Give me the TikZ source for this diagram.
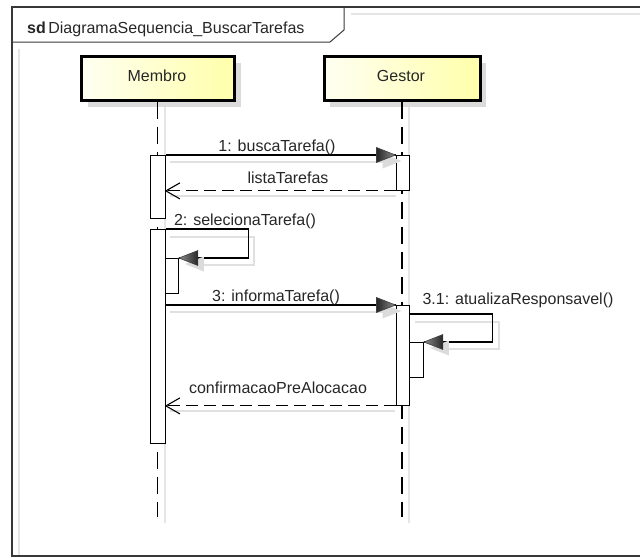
\documentclass[tikz,border=0pt]{standalone}
\usepackage{fontspec}
\setmainfont{Liberation Sans}
\begin{document}
\begin{tikzpicture}[x=1pt,y=-1pt,
  lbl/.style={font=\fontsize{16}{18}\selectfont, text=black!85, inner sep=0pt, anchor=base},
  lifebox/.style={draw=black, line width=3pt, left color=yellow!5, right color=yellow!33,
    minimum height=44pt, inner sep=0pt},
  boxshadow/.style={fill=black!14},
  lifeline/.style={draw=black, line width=1.2pt, dash pattern=on 17pt off 8pt},
  lifeshadow/.style={draw=black!10, line width=1.2pt},
  actbar/.style={draw=black, fill=white, line width=0.9pt, inner sep=0pt, anchor=north west},
  msg/.style={draw=black, line width=1.1pt},
  reply/.style={draw=black, line width=1.1pt, dash pattern=on 12pt off 6pt},
  msgshadow/.style={draw=black!12, line width=1.1pt},
  framestyle/.style={draw=black!78, line width=1.5pt},
  callheadR/.pic={
    \fill[black!14] (6,6) -- (-13,-1.5) -- (-13,13.5) -- cycle;
    \shade[left color=black!85, right color=black!45, draw=black!75, line width=0.6pt]
      (0,0) -- (-19,-7.5) -- (-19,7.5) -- cycle;
  },
  callheadL/.pic={
    \fill[black!14] (6,6) -- (25,-1.5) -- (25,13.5) -- cycle;
    \shade[left color=black!45, right color=black!85, draw=black!75, line width=0.6pt]
      (0,0) -- (19,-7.5) -- (19,7.5) -- cycle;
  },
  replyhead/.pic={
    \draw[black, line width=1.1pt] (14,-8) -- (0,0) -- (14,8);
  },
]
\useasboundingbox (0,0) rectangle (640,557);
\clip (0,0) rectangle (640,557);

% frame shadow and frame
\draw[black!10, line width=1.2pt] (19,49) -- (19,556);
\draw[black!10, line width=1.2pt] (351,14) -- (640,14);
\draw[framestyle] (650,556) -- (12,556) -- (12,7) -- (650,7);
\draw[draw=black!78, line width=1pt] (12,42) -- (330,42) -- (344,30) -- (344,7);
\node[lbl, anchor=base west] (title) at (27,33)
  {\textbf{sd}\hspace{2.5pt}DiagramaSequencia\_BuscarTarefas};

% lifeline heads
\fill[boxshadow] (88,63) rectangle (241,107);
\fill[boxshadow] (330,63) rectangle (486,107);
\node[lifebox, minimum width=153pt] (membro) at (157.5,78) {};
\node[lifebox, minimum width=156pt] (gestor) at (402,78) {};
\node[lbl] (membrotxt) at (157,81) {Membro};
\node[lbl] (gestortxt) at (401,81) {Gestor};

% lifelines
\coordinate (mEnd) at (157.5,517);
\coordinate (gEnd) at (402,517);
\draw[lifeshadow] (165,107) -- (165,523);
\draw[lifeshadow] (409,107) -- (409,523);
\draw[lifeline] (membro.south) -- (mEnd);
\draw[lifeline] (gestor.south) -- (gEnd);

% message shadows
\draw[msgshadow] (170,162) -- (396,162);
\draw[msgshadow] (170,196) -- (396,196);
\draw[msgshadow] (170,237) -- (254,237) -- (254,265) -- (200,265);
\draw[msgshadow] (170,312) -- (395,312);
\draw[msgshadow] (415,322) -- (499,322) -- (499,349) -- (444,349);
\draw[msgshadow] (170,411) -- (395,411);

% activation bars
\node[actbar, minimum width=15pt, minimum height=63pt] (m1) at (150,155) {};
\node[actbar, minimum width=15pt, minimum height=214pt] (m2) at (150,229) {};
\node[actbar, minimum width=13pt, minimum height=35pt] (m2n) at (165,258) {};
\node[actbar, minimum width=13pt, minimum height=35pt] (g1) at (395.5,155) {};
\node[actbar, minimum width=13pt, minimum height=100pt] (g2) at (395.5,305) {};
\node[actbar, minimum width=14.5pt, minimum height=35pt] (g2n) at (408.5,342) {};

% 1: buscaTarefa / listaTarefas
\draw[msg] (m1.north east) -- (g1.north west);
\pic at (g1.north west) {callheadR};
\node[lbl] (l1) at (277,151) {1: buscaTarefa()};
\draw[reply] (g1.south west) -- (m1.east |- g1.south west);
\pic at (m1.east |- g1.south west) {replyhead};
\node[lbl] (l1r) at (288,183) {listaTarefas};

% 2: selecionaTarefa (self call)
\draw[msg] (m2.north east) -- ++(83,0) |- (m2n.north east);
\pic at (m2n.north east) {callheadL};
\node[lbl] (l2) at (245,225) {2: selecionaTarefa()};

% 3: informaTarefa
\draw[msg] (m2.east |- g2.north west) -- (g2.north west);
\pic at (g2.north west) {callheadR};
\node[lbl] (l3) at (276,301) {3: informaTarefa()};

% 3.1: atualizaResponsavel (self call)
\draw[msg] (g2.north east) ++(0,9) -- ++(83.5,0) |- (g2n.north east);
\pic at (g2n.north east) {callheadL};
\node[lbl] (l31) at (518,304) {3.1: atualizaResponsavel()};

% reply confirmacaoPreAlocacao
\draw[reply] (g2.south west) -- (m2.east |- g2.south west);
\pic at (m2.east |- g2.south west) {replyhead};
\node[lbl] (l3r) at (278,393) {confirmacaoPreAlocacao};
\end{tikzpicture}
\end{document}
